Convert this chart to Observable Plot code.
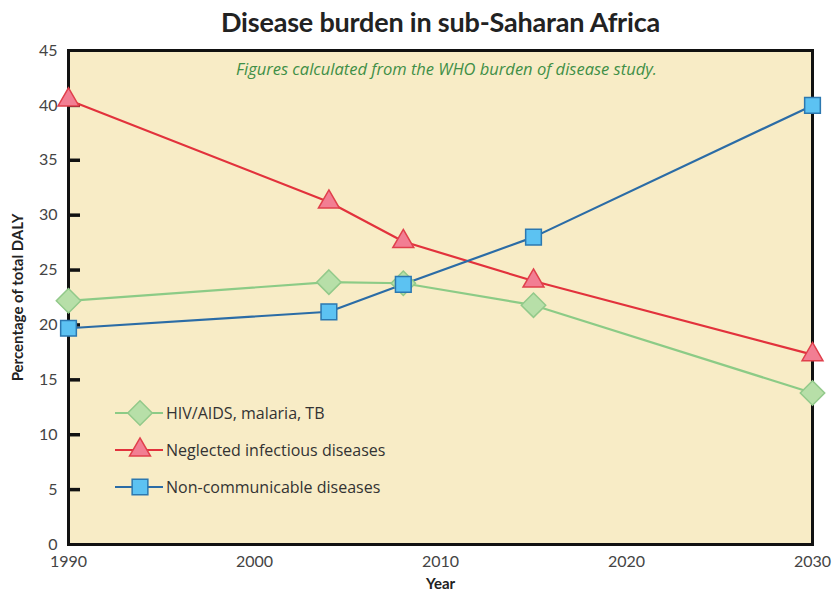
<!DOCTYPE html>
<html><head><meta charset="utf-8">
<script src="https://cdn.jsdelivr.net/npm/d3@7"></script>
<script src="https://cdn.jsdelivr.net/npm/@observablehq/plot@0.6"></script>
<style>
body{margin:0;background:#fff;font-family:Lato,"Open Sans",sans-serif;}
#wrap{position:relative;width:833px;}
#title{height:40px;line-height:44px;text-align:center;font-size:27px;font-weight:bold;color:#222;letter-spacing:-0.2px;padding-left:48px;}
#legend{position:absolute;left:110px;top:394px;}
</style></head><body>
<div id="wrap">
<div id="title">Disease burden in sub-Saharan Africa</div>
<div id="chart"></div>
<svg id="legend" width="360" height="110"></svg>
</div>
<script>
const years = [1990, 2004, 2008, 2015, 2030];
const hiv = [22.2, 23.9, 23.8, 21.8, 13.8];
const ntd = [40.5, 31.2, 27.6, 24.0, 17.3];
const ncd = [19.7, 21.2, 23.7, 28.0, 40.0];
const seriesNames = ["HIV/AIDS, malaria, TB", "Neglected infectious diseases", "Non-communicable diseases"];
const xTicks = [1990, 2000, 2010, 2020, 2030];
const yTicks = [0, 5, 10, 15, 20, 25, 30, 35, 40, 45];
const subtitle = "Figures calculated from the WHO burden of disease study.";

const styles = [
  {line:"#8ccb86", fill:"#b7dfa8", stroke:"#92c98a", symbol:"diamond2", r:11},
  {line:"#e2323c", fill:"#f27e93", stroke:"#e0404c", symbol:"triangle2", r:10},
  {line:"#2b6ca6", fill:"#5cc2f2", stroke:"#2c78b0", symbol:"square2", r:10}
];
const values = [hiv, ntd, ncd];
const data = values.flatMap((vals, i) => vals.map((v, j) => ({series: seriesNames[i], year: years[j], value: v})));

const W = 833, H = 553, ML = 68, MR = 21, MT = 10, MB = 49;
const lineMarks = seriesNames.map((name, i) => {
  const d = data.filter(e => e.series === name);
  return Plot.line(d, {x:"year", y:"value", stroke: styles[i].line, strokeWidth: 2.2});
});
const dotMarks = seriesNames.map((name, i) => {
  const d = data.filter(e => e.series === name);
  return Plot.dot(d, {x:"year", y:"value", symbol: styles[i].symbol, r: styles[i].r, fill: styles[i].fill, stroke: styles[i].stroke, strokeWidth: 1.5});
});

const chart = Plot.plot({
  width: W, height: H, marginLeft: ML, marginRight: MR, marginTop: MT, marginBottom: MB,
  style: {fontFamily: "Lato, 'Open Sans', sans-serif", background: "transparent", overflow: "visible"},
  x: {domain: [1990, 2030]},
  y: {domain: [0, 45]},
  marks: [
    Plot.frame({fill: "#f8ecc6", stroke: null}),
    Plot.text([subtitle], {frameAnchor: "top", dx: 6, dy: 13, text: d => d, fill: "#3f8f46", fontStyle: "italic", fontSize: 16.5, fontFamily: "'Open Sans', sans-serif"}),
    Plot.axisY({ticks: yTicks, tickSize: 0, tickPadding: 11, fontSize: 16, fill: "#444", label: "Percentage of total DALY", labelAnchor: "center", labelArrow: "none", labelOffset: 56}),
    Plot.axisX({ticks: xTicks, tickFormat: d => String(d), tickSize: 0, tickPadding: 11, fontSize: 16, fill: "#444", label: "Year", labelAnchor: "center", labelArrow: "none", labelOffset: 44}),
    Plot.ruleY(yTicks.filter(t => t > 0 && t < 45), {y: d => d, stroke: "#111", strokeWidth: 3.5, insetRight: W - ML - MR - 12}),
    Plot.frame({stroke: "#111", strokeWidth: 3}),
    ...lineMarks,
    ...dotMarks
  ]
});
document.getElementById("chart").appendChild(chart);
d3.select(chart).selectAll("g[aria-label='y-axis label'] text, g[aria-label='x-axis label'] text")
  .style("font-weight", "bold").style("font-size", "15px").style("fill", "#222");

// legend
const leg = d3.select("#legend");
const symMap = {diamond2: d3.symbolDiamond2, triangle2: d3.symbolTriangle2, square2: d3.symbolSquare2};
seriesNames.forEach((name, i) => {
  const s = styles[i];
  const g = leg.append("g").attr("transform", `translate(0, ${19 + i * 37})`);
  g.append("line").attr("x1", 5).attr("x2", 53).attr("stroke", s.line).attr("stroke-width", 2);
  g.append("path").attr("transform", "translate(30,0)")
    .attr("d", d3.symbol(symMap[s.symbol], Math.PI * s.r * s.r)())
    .attr("fill", s.fill).attr("stroke", s.stroke).attr("stroke-width", 1.5);
  g.append("text").attr("x", 56).attr("y", 6).text(name)
    .attr("font-size", 16).attr("fill", "#333").attr("font-family", "'Open Sans', sans-serif");
});
</script>
</body></html>
